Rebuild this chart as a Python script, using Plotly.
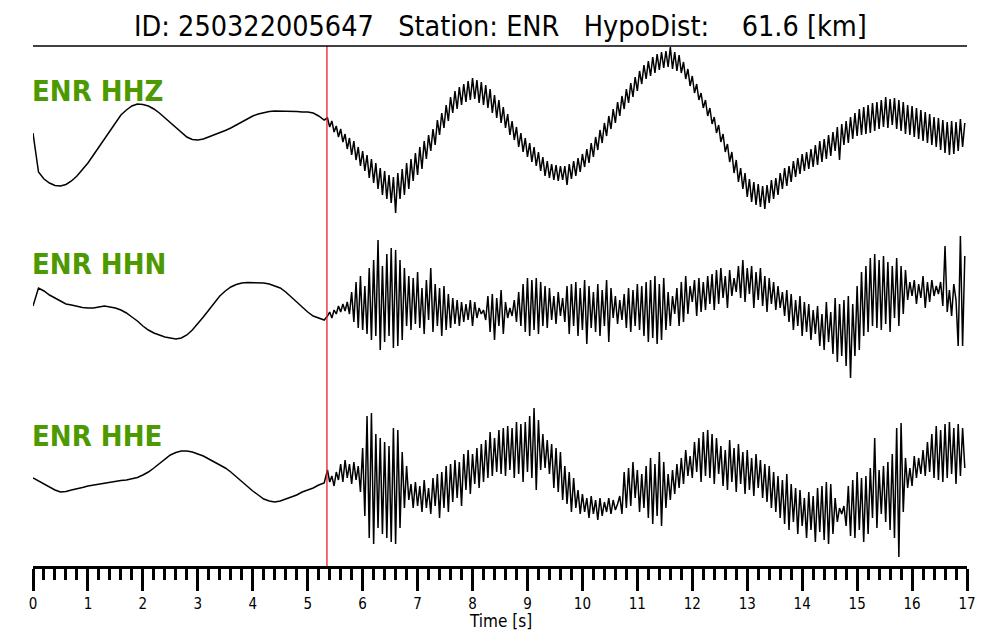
import numpy as np
import plotly.graph_objects as go

# ---------------- data ----------------
TITLE = "ID: 250322005647   Station: ENR   HypoDist:    61.6 [km]"
STATION = "ENR"
CHANNELS = ["HHZ", "HHN", "HHE"]
PICK_TIME = 5.35          # s, red marker
T_END = 17.0
XTICK_VALUES = list(range(0, 18))
X_TITLE = "Time [s]"

PRE_T0, PRE_DT = 0.0, 0.1      # 0.0 .. 5.3 s
POST_T0, POST_DT = 5.36, 0.04  # 5.36 .. 16.96 s

# relative amplitudes (arbitrary units, positive = up)
hhz_pre = [0, -39, -46, -50, -52.5, -53, -51.5, -48, -43, -37,
           -30, -22, -14, -5, 3, 11, 18, 23, 27, 29,
           28.5, 27, 24, 20, 15, 10, 5, 0, -4, -6.5,
           -7, -6, -4, -2, 0, 2.5, 5, 8, 11, 14,
           17, 19, 20.5, 21.5, 22, 22, 22, 21.5, 21.5, 21,
           21, 20, 17, 13]
hhz_post = [15, 6, 12, 1, 7, -4, 4, -9, -1, -16, -5, -22, -8, -27, -14, -33, -18, -38, -22, -45, -26, -50, -30, -56, -35,
            -62, -38, -66, -42, -70, -44, -80, -40, -66, -36, -62, -30, -56, -26, -48, -20, -42, -14, -36, -8, -26, -2, -18, 4, -12,
            13, -2, 20, 5, 28, 12, 36, 20, 42, 24, 46, 28, 49, 31, 52, 33, 55, 34, 53, 30, 51, 28, 48, 25, 44,
            20, 38, 15, 33, 10, 26, 5, 19, -2, 12, -7, 6, -14, 0, -19, -5, -24, -10, -29, -14, -33, -19, -38, -24, -43,
            -28, -45, -31, -47, -32, -48, -33, -47, -33, -52, -31, -46, -28, -43, -25, -39, -21, -34, -16, -30, -10, -24, -4, -17, 3,
            -10, 10, -3, 17, 4, 24, 10, 31, 17, 37, 24, 44, 30, 50, 36, 56, 42, 62, 49, 68, 54, 72, 57, 76, 60,
            79, 63, 81, 65, 82, 66, 86, 64, 81, 62, 78, 60, 71, 54, 64, 47, 57, 40, 49, 33, 40, 25, 33, 17, 25,
            9, 16, 0, 8, -9, -1, -19, -11, -29, -19, -40, -27, -49, -35, -56, -40, -64, -46, -69, -49, -72, -51, -74, -53, -76,
            -52, -70, -47, -66, -45, -62, -40, -56, -35, -53, -33, -49, -28, -44, -25, -41, -21, -38, -19, -36, -16, -34, -12, -32, -8,
            -29, -6, -26, -2, -23, 1, -18, 6, -27, 9, -12, 12, -10, 16, -6, 20, -3, 24, -2, 26, -1, 28, 0, 30, 2,
            31, 4, 33, 6, 36, 5, 34, 8, 35, 4, 33, 2, 31, -1, 28, -2, 27, -4, 25, -6, 23, -8, 21, -10, 19,
            -12, 16, -14, 15, -17, 13, -20, 11, -22, 12, -21, 11, -18, 14, -14, 10]

hhn_pre = [0, 18, 15, 11, 8, 5, 2, 1, -0.5, -1.5,
           -2, -2, -1, 0, -1, -2, -4, -7, -11, -15,
           -20, -24, -27, -29, -31, -32, -33, -32, -29, -24,
           -18, -11, -4, 3, 10, 15, 19, 21.5, 23, 23.5,
           23.5, 23, 23, 22, 20, 18, 14, 9, 4, -1,
           -6, -10, -12, -14]
hhn_post = [-10, -6, -12, -4, -8, 0, -6, 2, -5, 4, -8, 14, -16, 24, -22, 30, -24, 20, -28, 38, -34, 46, -30, 66, -44,
            40, -36, 52, -30, 58, -42, 56, -40, 46, -34, 38, -20, 30, -24, 28, -18, 34, -22, 18, -28, 26, -14, 38, -26, 22,
            -20, 18, -30, 20, -24, 12, -22, 8, -18, 6, -20, 4, -16, 2, -14, 6, -20, 4, -12, -2, -8, -4, -14, 10, -26,
            12, -34, 8, -20, 16, -28, 4, -12, -2, -10, 6, -16, 14, -20, 22, -26, 28, -30, 26, -24, 28, -28, 24, -20, 20,
            -22, 18, -14, 10, -18, 14, -10, 8, -16, 20, -28, 22, -20, 24, -30, 18, -24, 26, -38, 20, -22, 14, -26, 22, -30,
            16, -20, 26, -36, 18, -12, 10, -18, 6, -14, 12, -22, 18, -26, 16, -20, 22, -24, 20, -30, 24, -36, 26, -32, 30,
            -38, 22, -34, 28, -24, 14, -20, 10, -8, 18, -20, 24, -16, 30, -8, 20, 4, 26, -10, 28, -6, 24, -4, 30, 2,
            32, -4, 36, 2, 38, 8, 30, -2, 36, 10, 28, 14, 40, 8, 46, 4, 38, 12, 40, -2, 34, 6, 38, 0, 30,
            -6, 28, 2, 24, -4, 20, -2, 14, -10, 16, -16, 12, -24, 6, -20, 10, -30, 4, -26, 2, -34, -4, -28, 0, -40,
            -8, -44, 4, -36, -6, -48, 8, -56, 2, -50, 6, -60, 10, -72, 2, -50, 20, -44, 34, -30, 40, -26, 48, -20, 52,
            -22, 46, -24, 50, -18, 44, -26, 40, -12, 48, -20, 40, -8, 36, 6, 24, 10, 26, 2, 22, 8, 30, -2, 24, 4,
            26, 10, 20, 12, 24, 0, 60, -6, 16, -10, 22, 6, -40, 70, -40, 50]

hhe_pre = [0, -3, -6, -9, -12, -14, -13.5, -12, -11, -9.5,
           -8, -7, -6, -5, -4, -3, -2.5, -2, -1, 0.5,
           3, 6, 10, 14.5, 19, 23, 25.5, 27, 27, 26,
           24, 22, 19, 16, 13, 10, 6, 1, -4, -8,
           -13, -17, -21, -23, -24, -23, -21, -19, -17, -14,
           -12, -10, -7, -5]
hhe_post = [8, -4, 2, -8, 6, -2, 14, -4, 18, 0, 14, -6, 16, -2, 12, -14, 30, -38, 62, -60, 65, -66, 44, -50, 40,
            -56, 36, -60, 32, -64, 50, -66, 48, -50, 26, -30, 12, -22, -6, -30, -4, -28, -8, -34, -2, -30, -10, -36, 0, -28,
            4, -40, 6, -30, 12, -34, 14, -24, 18, -20, 16, -28, 24, -12, 28, -16, 24, -6, 30, -10, 34, -4, 38, 0, 46,
            2, 40, 6, 48, 4, 50, 2, 52, 8, 50, 0, 56, 4, 54, -4, 56, 6, 62, 0, 70, -12, 58, 8, 44, 10,
            38, 4, 34, -10, 30, -14, 26, -22, 12, -26, 6, -34, 0, -30, -12, -36, -16, -34, -20, -40, -18, -36, -22, -42, -20,
            -38, -24, -34, -20, -36, -22, -32, -26, -18, -36, 6, -30, 10, -28, 16, -20, 8, -34, 4, -30, 12, -40, 20, -46, 14,
            -38, 26, -48, 16, -30, 4, -22, 8, -16, 14, -10, 20, -6, 28, 2, 22, 0, 36, 6, 40, -4, 46, 2, 48, 0,
            44, -6, 40, 4, 32, -8, 28, -12, 38, -4, 30, -14, 34, -6, 26, -16, 28, -12, 20, -18, 24, -10, 18, -20, 14,
            -24, 12, -30, 6, -34, 2, -40, -2, -46, 4, -52, -6, -44, -10, -56, -12, -48, -20, -60, -14, -52, -18, -64, -10, -54,
            -8, -62, -4, -66, -6, -56, -20, -44, -30, -36, -28, -48, -8, -58, -2, -60, 6, -52, 0, -64, 2, -56, 10, -40, 40,
            -50, 8, -36, 12, -44, 16, -52, 24, -60, 50, -79, 55, -34, 20, -10, 10, -8, 22, 0, 20, 4, 28, 2, 36, 6,
            44, 0, 52, -2, 48, -4, 54, 0, 56, 4, 50, -6, 54, 2, 50, 10]

# ---------------- layout constants ----------------
W, H = 1000, 640
PAGE_SHIFT = 8                    # browser body margin
PLOT_LEFT, PLOT_RIGHT, PLOT_TOP, PLOT_BOTTOM = 33, 967, 46, 566   # target screen pixels
M_L = PLOT_LEFT - PAGE_SHIFT
M_R = W - PLOT_RIGHT + PAGE_SHIFT
M_T = PLOT_TOP - PAGE_SHIFT
M_B = H - PLOT_BOTTOM + PAGE_SHIFT
Y_SPAN = PLOT_BOTTOM - PLOT_TOP   # 520 units = 520 px
OFFSETS = {"HHZ": 433, "HHN": 260, "HHE": 88}
LABEL_LIFT = 42
LABEL_COLOR = "#4C9900"
FONT = "DejaVu Sans Condensed, DejaVu Sans"


def paper_y(screen_px):
    return (PLOT_BOTTOM - screen_px) / Y_SPAN


traces = {"HHZ": (hhz_pre, hhz_post), "HHN": (hhn_pre, hhn_post), "HHE": (hhe_pre, hhe_post)}

fig = go.Figure()
for ch in CHANNELS:
    pre, post = traces[ch]
    t = np.concatenate([PRE_T0 + PRE_DT * np.arange(len(pre)), POST_T0 + POST_DT * np.arange(len(post))])
    y = np.concatenate([np.asarray(pre, float), np.asarray(post, float)]) + OFFSETS[ch]
    fig.add_trace(go.Scatter(x=t, y=y, mode="lines", line=dict(color="black", width=1.5),
                             hoverinfo="skip", showlegend=False))
    fig.add_annotation(x=0, y=OFFSETS[ch] + LABEL_LIFT, xref="x", yref="y", text=f"<b>{STATION} {ch}</b>",
                       showarrow=False, xanchor="left", yanchor="middle", xshift=-3,
                       font=dict(family=FONT, size=29, color=LABEL_COLOR))

# pick marker
fig.add_shape(type="line", x0=PICK_TIME, x1=PICK_TIME, y0=0, y1=1, xref="x", yref="paper",
              line=dict(color="#E8202A", width=1.3))
# line under title
fig.add_shape(type="line", x0=0, x1=1, y0=1, y1=1, xref="paper", yref="paper",
              line=dict(color="black", width=1.5))

fig.add_annotation(x=0.5, y=paper_y(27), xref="paper", yref="paper",
                   text=TITLE.replace(" ", "\u00a0"), showarrow=False, xanchor="center", yanchor="middle",
                   font=dict(family=FONT, size=28.5, color="black"))
fig.add_annotation(x=0.5, y=paper_y(621), xref="paper", yref="paper",
                   text=X_TITLE, showarrow=False, xanchor="center", yanchor="middle",
                   font=dict(family=FONT, size=17, color="black"))

fig.update_layout(
    width=W, height=H, margin=dict(l=M_L, r=M_R, t=M_T, b=M_B),
    paper_bgcolor="white", plot_bgcolor="white",
    xaxis=dict(range=[0, T_END], showgrid=False, zeroline=False, showline=True, linecolor="black",
               linewidth=2.5, ticks="outside", ticklen=22, tickwidth=2.5, tickcolor="black",
               tickvals=XTICK_VALUES, ticktext=[str(v) for v in XTICK_VALUES],
               tickfont=dict(family=FONT, size=15, color="black"),
               minor=dict(dtick=0.2, tick0=0, ticks="outside", ticklen=11, tickwidth=2.5, tickcolor="black",
                          showgrid=False)),
    yaxis=dict(range=[0, Y_SPAN], visible=False, showgrid=False, zeroline=False),
)

fig.write_html("out.html")
